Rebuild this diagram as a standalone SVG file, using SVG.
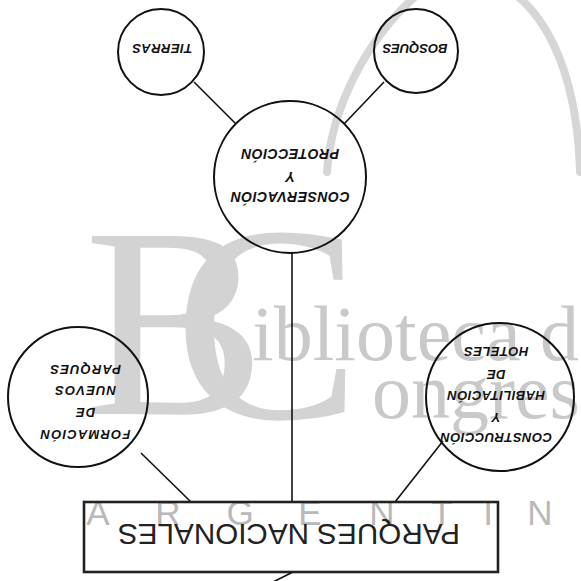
<svg xmlns="http://www.w3.org/2000/svg" width="581" height="581" viewBox="0 0 581 581">
<style>
.bg{fill:#ffffff}
.wm{fill:#d3d3d3;font-family:"Liberation Serif",serif}
.wmt{fill:#c9c9c9;font-family:"Liberation Serif",serif}
.wms{fill:#b9b9b9;font-family:"Liberation Sans",sans-serif;font-size:35px}
.arc{fill:none;stroke:#d6d6d6;stroke-width:8;stroke-linecap:round}
.node{fill:none;stroke:#111;stroke-width:2}
.lbl{fill:#111;font-family:"Liberation Sans",sans-serif;font-weight:bold;font-style:italic;text-anchor:middle}
.edge{fill:none;stroke:#111;stroke-width:1.6}
.box{fill:none;stroke:#222;stroke-width:2.6}
.title{fill:#222;font-family:"Liberation Sans",sans-serif;font-size:30px;text-anchor:middle}
</style>
<rect class="bg" x="0" y="0" width="581" height="581"/>
<g id="watermark">
<path class="arc" d="M327 172 C331 110 365 40 418 -6"/>
<path class="arc" d="M515 -6 C560 30 578 100 580 172"/>
<text class="wm" x="84" y="414" font-size="272">B</text>
<text class="wm" x="174" y="418" font-size="280">C</text>
<text class="wmt" x="252" y="360" font-size="78">iblioteca d</text>
<text class="wmt" x="372" y="418" font-size="78">ongres</text>
<text class="wms" x="98 168 240 310 382 442 488 540" y="525" text-anchor="middle">ARGENTIN</text>
</g>
<g id="connectors">
<line class="edge" x1="194" y1="82" x2="236" y2="124"/>
<line class="edge" x1="384" y1="82" x2="344" y2="124"/>
<line class="edge" x1="292" y1="252" x2="292" y2="502"/>
<line class="edge" x1="141" y1="453" x2="191" y2="502"/>
<line class="edge" x1="443" y1="441" x2="395" y2="502"/>
<line class="edge" x1="293" y1="572" x2="273" y2="582"/>
</g>
<g id="tierras">
<circle class="node" cx="161" cy="52" r="43"/>
<text class="lbl" font-size="13" letter-spacing="0.5" transform="rotate(180 162 49)" x="162" y="53.7">TIERRAS</text>
</g>
<g id="bosques">
<circle class="node" cx="416" cy="51" r="42"/>
<text class="lbl" font-size="13" transform="rotate(180 415 49)" x="415" y="53.7">BOSQUES</text>
</g>
<g id="conservacion">
<circle class="node" cx="290" cy="177" r="76"/>
<g transform="rotate(180 290 176)">
<text class="lbl" font-size="14" letter-spacing="0.5" x="290" y="160">CONSERVACIÓN</text>
<text class="lbl" font-size="14" letter-spacing="0.5" x="290" y="180">Y</text>
<text class="lbl" font-size="14" letter-spacing="0.5" x="290" y="203">PROTECCIÓN</text>
</g>
</g>
<g id="formacion">
<circle class="node" cx="78" cy="397" r="70"/>
<g transform="rotate(180 85 401)">
<text class="lbl" font-size="13" letter-spacing="1.2" x="85" y="372.5">FORMACIÓN</text>
<text class="lbl" font-size="13" letter-spacing="1.2" x="85" y="394.5">DE</text>
<text class="lbl" font-size="13" letter-spacing="1.2" x="85" y="416.5">NUEVOS</text>
<text class="lbl" font-size="13" letter-spacing="1.2" x="85" y="437.5">PARQUES</text>
</g>
</g>
<g id="construccion">
<circle class="node" cx="500" cy="397" r="74"/>
<g transform="rotate(180 496 394)">
<text class="lbl" font-size="13" letter-spacing="0.5" x="496" y="355.5">CONSTRUCCIÓN</text>
<text class="lbl" font-size="13" letter-spacing="0.5" x="496" y="375.5">Y</text>
<text class="lbl" font-size="13" letter-spacing="0.5" x="496" y="397.5">HABILITACIÓN</text>
<text class="lbl" font-size="13" letter-spacing="0.5" x="496" y="418.5">DE</text>
<text class="lbl" font-size="13" letter-spacing="0.5" x="496" y="441.5">HOTELES</text>
</g>
</g>
<g id="parques">
<rect class="box" x="84" y="502" width="414" height="70"/>
<text class="title" transform="rotate(180 289 535)" x="289" y="545.7" textLength="342" lengthAdjust="spacingAndGlyphs">PARQUES NACIONALES</text>
</g>
</svg>
